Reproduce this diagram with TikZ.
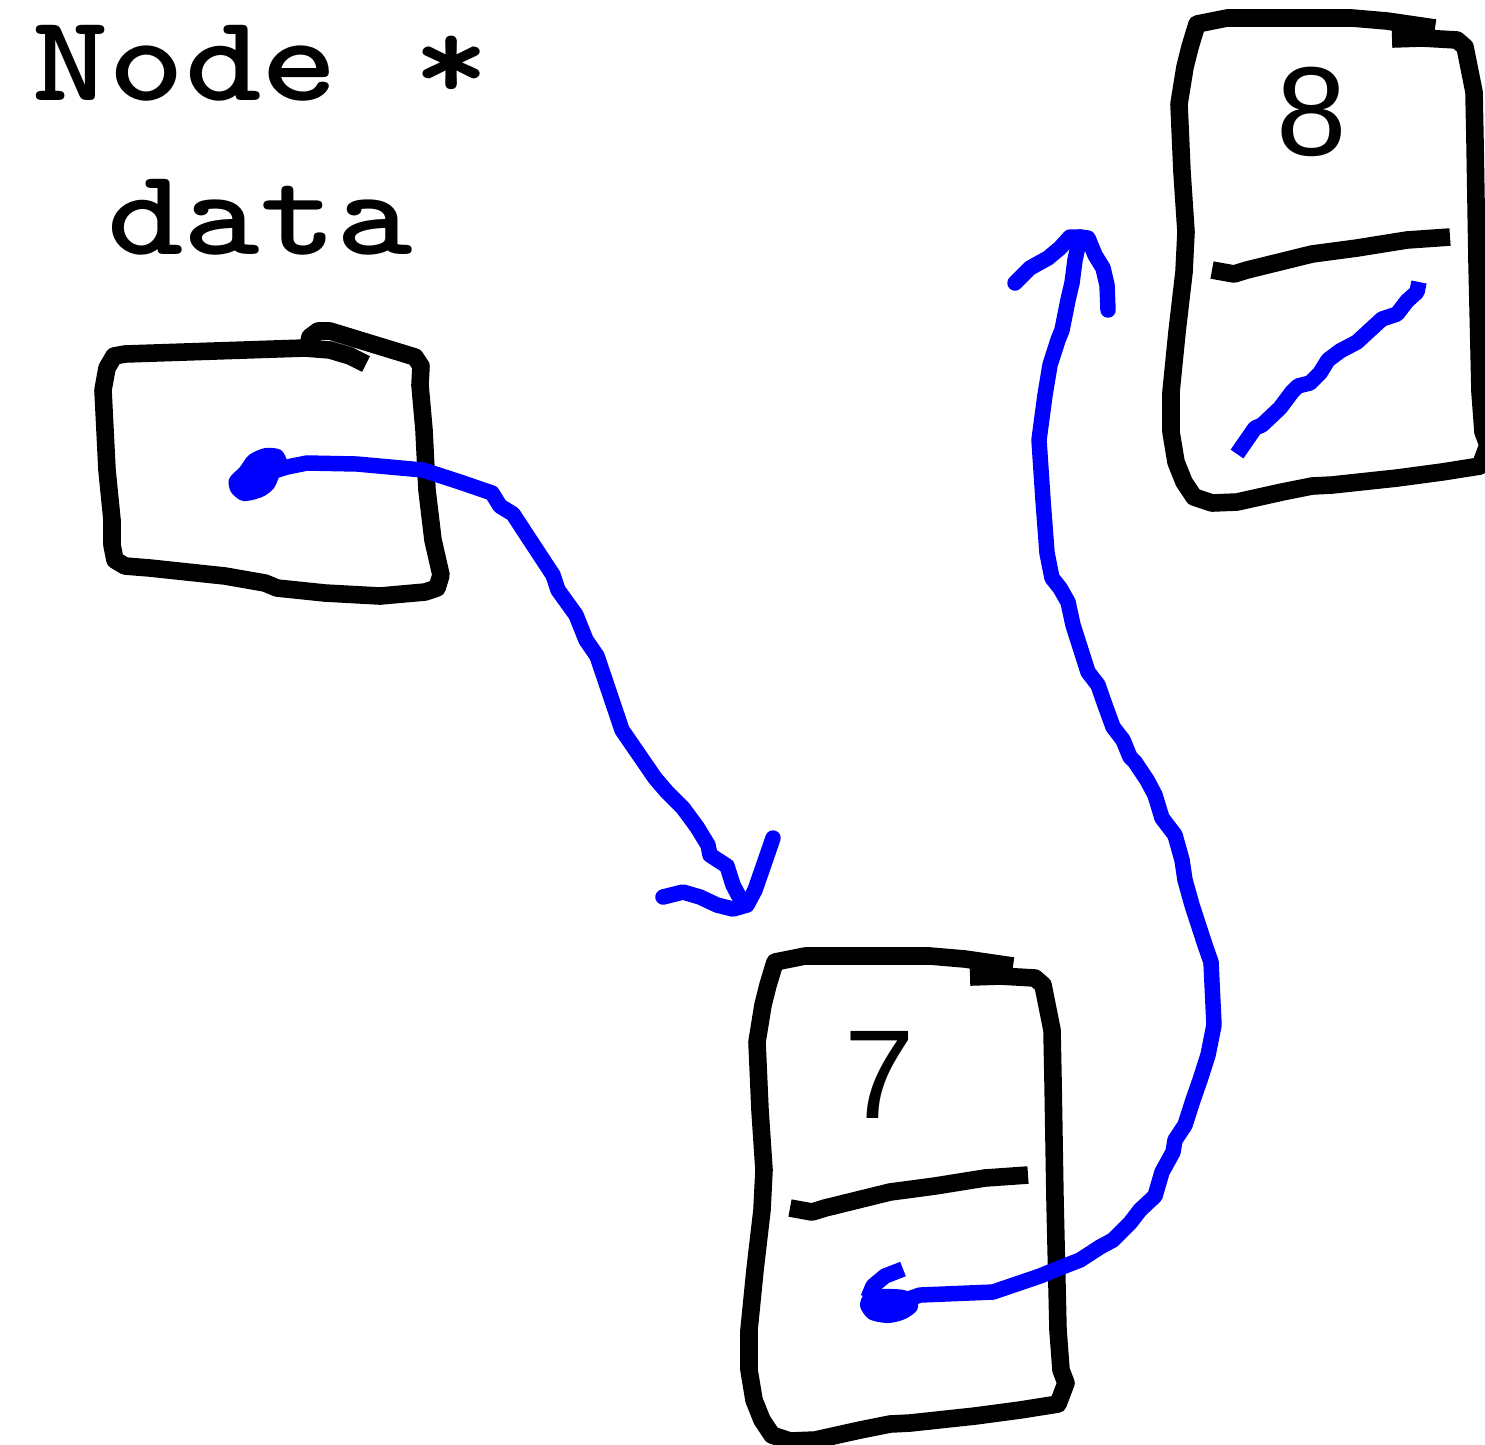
\documentclass[tikz,border=0pt]{standalone}
\usepackage{fontspec}
\usepackage{graphicx}
\newfontfamily\digitfont{Liberation Sans}
\usepackage{xcolor}
\definecolor{inkblue}{RGB}{0,0,255}
\newcommand{\wide}[1]{\scalebox{1.18}[1.0]{#1}}
\tikzset{
  sketch/.style ={draw=black, line width=5pt, line join=round, line cap=butt},
  ink/.style    ={draw=inkblue, line width=4.4pt, line join=round, line cap=round},
  inkflat/.style={ink, line cap=butt},
  blob/.style   ={fill=inkblue},
  word/.style   ={font=\ttfamily\bfseries\fontsize{35}{40}\selectfont,
                  inner sep=0pt, anchor=base west},
  digit/.style  ={font=\digitfont\fontsize{36}{40}\selectfont, inner sep=0pt},
}
% one list cell, drawn at the place of the cell holding 7
\newcommand{\cellsketch}{%
  \draw[sketch] (1013,966) -- (965,959) -- (930,956) -- (805,956) -- (775,962)
    -- (768,985) -- (763,1005) -- (757,1042) -- (760,1110) -- (764,1170)
    -- (762,1210) -- (755,1270) -- (749,1330) -- (749,1370) -- (754,1400)
    -- (762,1420) -- (772,1435) -- (790,1441) -- (815,1440) -- (860,1430)
    -- (890,1424) -- (910,1423) -- (975,1416) -- (1020,1410) -- (1058,1404)
    -- (1066,1383) -- (1061,1370) -- (1058,1330) -- (1055,1200) -- (1053,1080)
    -- (1052,1030) -- (1046,1000) -- (1043,985) -- (1035,978) -- (1000,976)
    -- (970,977);
  \draw[sketch] (790,1208) -- (812,1212) -- (825,1208) -- (890,1192)
    -- (935,1186) -- (960,1182) -- (985,1178) -- (1028,1175);
}
\begin{document}
\begin{tikzpicture}[x=0.01cm, y=-0.01cm]
  \useasboundingbox (0,0) rectangle (1485,1444);
  % caption
  \node[word] (type) at (32,100) {\wide{Node *}};
  \node[word] (field) at (107,254) {\wide{data}};
  % the pointer
  \draw[sketch] (308,346) -- (310,337) -- (318,331) -- (330,331) -- (415,357)
    -- (421,366) -- (420,385) -- (424,430) -- (427,490) -- (433,540)
    -- (441,575) -- (437,588) -- (425,592) -- (380,596) -- (325,593)
    -- (277,588) -- (265,583) -- (225,576) -- (150,568) -- (125,566)
    -- (115,560) -- (112,545) -- (112,520) -- (107,470) -- (103,390)
    -- (107,368) -- (114,356) -- (125,354) -- (305,348) -- (330,350)
    -- (350,356) -- (366,364);
  \coordinate (blobA) at (258,476);
  \fill[blob] plot[smooth cycle] coordinates {(231,492) (229,479) (240,467)
    (249,455) (265,448) (281,450) (287,462) (281,472) (274,488) (262,497)
    (243,501)};
  % the two cells
  \cellsketch
  \node[digit] (seven) at (880,1075) {7};
  \begin{scope}[shift={(422,-938)}]
    \cellsketch
  \end{scope}
  \node[digit] (eight) at (1312,112) {8};
  % pointer -> 7
  \coordinate (tipA) at (743,904);
  \draw[ink] (blobA) -- (287,467) -- (307,463) -- (357,464) -- (423,470)
    -- (460,482) -- (492,493) -- (500,506) -- (513,514) -- (530,540)
    -- (553,575) -- (558,590) -- (576,615) -- (586,640) -- (597,656)
    -- (622,730) -- (655,778) -- (667,792) -- (683,808) -- (697,827)
    -- (708,845) -- (710,855) -- (727,866) -- (733,885) -- (tipA);
  \draw[ink] (663,897) -- (683,892) -- (700,897) -- (717,905) -- (733,909)
    -- (747,905) -- (755,890) -- (763,867) -- (773,838);
  % 7 -> 8
  \coordinate (blobB) at (888,1306);
  \fill[blob] plot[smooth cycle] coordinates {(860,1306) (865,1293) (880,1289)
    (904,1290) (917,1297) (917,1310) (905,1319) (888,1323) (869,1319)};
  \draw[inkflat] (903,1269) -- (885,1276) -- (873,1286) -- (868,1298);
  \coordinate (tipB) at (1080,237);
  \draw[ink] (blobB) -- (920,1295) -- (993,1292) -- (1040,1276) -- (1062,1267)
    -- (1080,1260) -- (1100,1247) -- (1113,1240) -- (1130,1223) -- (1140,1210)
    -- (1155,1196) -- (1162,1172) -- (1173,1152) -- (1175,1140) -- (1185,1125)
    -- (1193,1100) -- (1200,1080) -- (1208,1055) -- (1214,1025) -- (1211,962)
    -- (1205,945) -- (1192,905) -- (1185,880) -- (1182,860) -- (1175,835)
    -- (1162,818) -- (1155,795) -- (1147,780) -- (1135,762) -- (1130,757)
    -- (1123,740) -- (1113,727) -- (1105,705) -- (1098,685) -- (1088,672)
    -- (1073,625) -- (1068,602) -- (1060,588) -- (1052,578) -- (1047,553)
    -- (1043,500) -- (1039,440) -- (1045,395) -- (1050,365) -- (1058,340)
    -- (1062,330) -- (1068,300) -- (1072,283) -- (1075,260) -- (tipB);
  \draw[ink] (1015,283) -- (1030,268) -- (1048,258) -- (1060,248) -- (1070,237)
    -- (tipB) -- (1088,238) -- (1095,255) -- (1103,268) -- (1107,285)
    -- (1108,310);
  % 8 -> null
  \draw[inkflat] (1237,454) -- (1255,428) -- (1262,425) -- (1280,408)
    -- (1292,392) -- (1298,386) -- (1310,383) -- (1320,373) -- (1328,360)
    -- (1340,351) -- (1357,342) -- (1370,330) -- (1382,319) -- (1397,314)
    -- (1407,301) -- (1417,292) -- (1419,282);
\end{tikzpicture}
\end{document}
